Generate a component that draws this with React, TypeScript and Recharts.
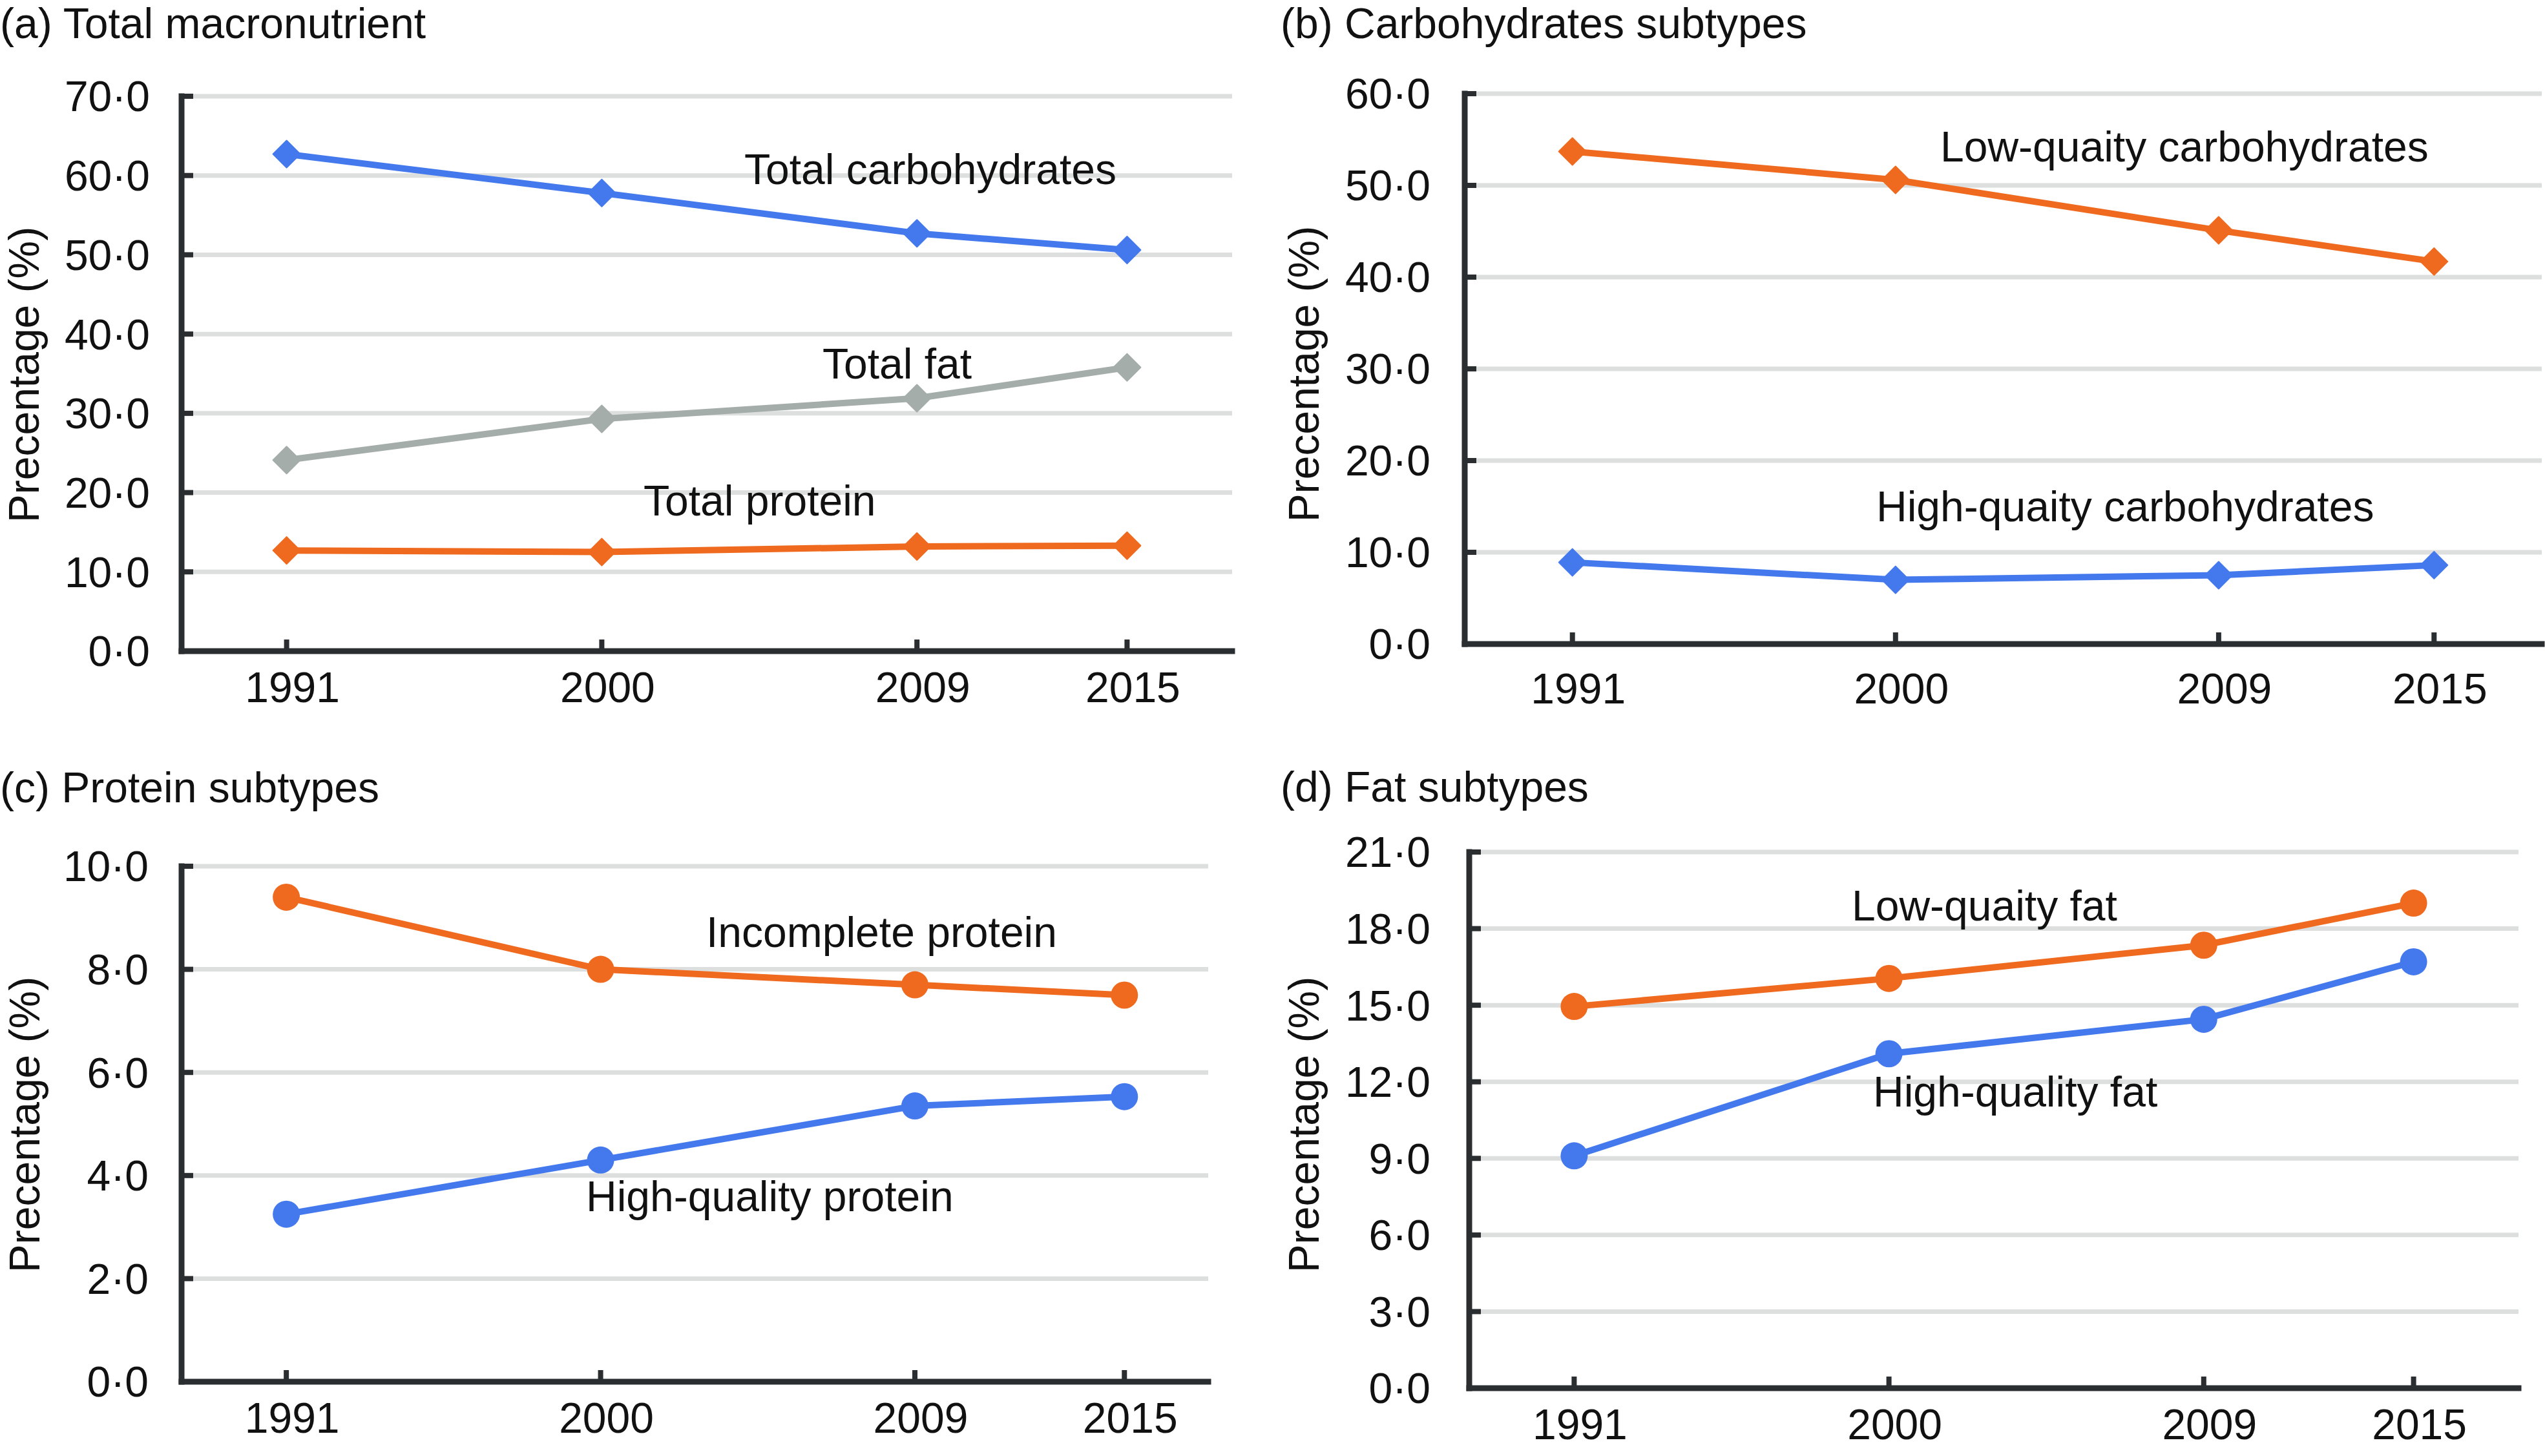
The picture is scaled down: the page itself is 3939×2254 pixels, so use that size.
import React from "react";
import { CartesianGrid, Line, LineChart, XAxis, YAxis } from "recharts";

const YEARS = [1991, 2000, 2009, 2015];

// (a) Total macronutrient
const totalCarbs = [62.7, 57.8, 52.7, 50.6];
const totalFat = [24.1, 29.3, 31.9, 35.8];
const totalProtein = [12.7, 12.5, 13.2, 13.3];

// (b) Carbohydrates subtypes
const lowCarbs = [53.7, 50.6, 45.1, 41.7];
const highCarbs = [8.9, 7.0, 7.5, 8.6];

// (c) Protein subtypes
const incompleteProtein = [9.4, 8.0, 7.7, 7.5];
const highProtein = [3.25, 4.3, 5.35, 5.53];

// (d) Fat subtypes
const lowFat = [14.95, 16.05, 17.35, 19.0];
const highFat = [9.1, 13.1, 14.45, 16.7];

const ticksA = [0, 10, 20, 30, 40, 50, 60, 70];
const ticksB = [0, 10, 20, 30, 40, 50, 60];
const ticksC = [0, 2, 4, 6, 8, 10];
const ticksD = [0, 3, 6, 9, 12, 15, 18, 21];

const BLUE = "#4479ee";
const ORANGE = "#ef6a1f";
const GREY = "#a5adab";
const AXIS = "#2a2e30";
const GRID = "#dcdfde";
const FONT = "'Liberation Sans', Arial, Helvetica, sans-serif";
const FS = 66;

const toRows = (cols: Record<string, number[]>) =>
  YEARS.map((year, i) => {
    const row: Record<string, number> = { year };
    Object.keys(cols).forEach((k) => (row[k] = cols[k][i]));
    return row;
  });

const dataA = toRows({ carbs: totalCarbs, fat: totalFat, protein: totalProtein });
const dataB = toRows({ low: lowCarbs, high: highCarbs });
const dataC = toRows({ incomplete: incompleteProtein, high: highProtein });
const dataD = toRows({ low: lowFat, high: highFat });

const fmt = (v: number) => v.toFixed(1).replace(".", "\u00b7");

function diamond(color: string) {
  return (props: any) => {
    const { cx, cy, index } = props;
    if (cx == null || cy == null) return <g key={`d-${index}`} />;
    return (
      <path
        key={`d-${index}`}
        d={`M${cx},${cy - 21} L${cx + 21},${cy} L${cx},${cy + 21} L${cx - 21},${cy} Z`}
        fill={color}
        stroke={color}
        strokeWidth={2}
        strokeLinejoin="round"
      />
    );
  };
}

interface Series {
  key: string;
  color: string;
  shape: "diamond" | "circle";
}

interface PanelProps {
  data: Record<string, number>[];
  box: { left: number; top: number; width: number; height: number };
  plot: { x0: number; x1: number; y0: number; y1: number };
  xDomain: [number, number];
  yDomain: [number, number];
  yTicks: number[];
  labelGap: number;
  xLabelGap: number;
  series: Series[];
}

function Panel({ data, box, plot, xDomain, yDomain, yTicks, labelGap, xLabelGap, series }: PanelProps) {
  const xAxisHeight = 100;
  const margin = {
    top: plot.y0 - box.top,
    right: box.left + box.width - plot.x1,
    bottom: box.top + box.height - plot.y1 - xAxisHeight,
    left: 0,
  };
  const tickFont = { fontSize: FS, fill: "#111", fontFamily: FONT };
  return (
    <div style={{ position: "absolute", left: box.left, top: box.top }}>
      <LineChart width={box.width} height={box.height} data={data} margin={margin}>
        <CartesianGrid horizontal vertical={false} stroke={GRID} strokeWidth={7} />
        <XAxis
          dataKey="year"
          type="number"
          domain={xDomain}
          ticks={YEARS}
          interval={0}
          height={xAxisHeight}
          tickSize={-18}
          tickMargin={18 + xLabelGap}
          tick={{ ...tickFont, dx: 9 }}
          axisLine={{ stroke: AXIS, strokeWidth: 9, strokeLinecap: "square" }}
          tickLine={{ stroke: AXIS, strokeWidth: 8 }}
          allowDataOverflow
        />
        <YAxis
          type="number"
          domain={yDomain}
          ticks={yTicks}
          interval={0}
          width={plot.x0 - box.left}
          tickSize={-18}
          tickMargin={18 + labelGap}
          tickFormatter={fmt}
          tick={tickFont}
          axisLine={{ stroke: AXIS, strokeWidth: 9, strokeLinecap: "square" }}
          tickLine={{ stroke: AXIS, strokeWidth: 8 }}
          allowDataOverflow
        />
        {series.map((s) => (
          <Line
            key={s.key}
            type="linear"
            dataKey={s.key}
            stroke={s.color}
            strokeWidth={10}
            dot={s.shape === "diamond" ? diamond(s.color) : { r: 21, fill: s.color, stroke: s.color, strokeWidth: 0 }}
            activeDot={false}
            isAnimationActive={false}
          />
        ))}
      </LineChart>
    </div>
  );
}

const titles = [
  { text: "(a) Total macronutrient", x: 0, y: 59 },
  { text: "(b) Carbohydrates subtypes", x: 1982, y: 59 },
  { text: "(c) Protein subtypes", x: 0, y: 1242 },
  { text: "(d) Fat subtypes", x: 1982, y: 1241 },
];

const yLabels = [
  { x: 60, y: 580 },
  { x: 2041, y: 579 },
  { x: 61, y: 1741 },
  { x: 2041, y: 1741 },
];

const notes = [
  { text: "Total carbohydrates", x: 1152, y: 285 },
  { text: "Total fat", x: 1273, y: 586 },
  { text: "Total protein", x: 996, y: 798 },
  { text: "Low-quaity carbohydrates", x: 3003, y: 250 },
  { text: "High-quaity carbohydrates", x: 2904, y: 807 },
  { text: "Incomplete protein", x: 1093, y: 1466 },
  { text: "High-quality protein", x: 907, y: 1875 },
  { text: "Low-quaity fat", x: 2866, y: 1425 },
  { text: "High-quality fat", x: 2899, y: 1713 },
];

export default function App() {
  return (
    <div style={{ position: "relative", width: 3939, height: 2254, background: "#fff", overflow: "hidden" }}>
      <style>{"body{margin:0}"}</style>
      <Panel
        data={dataA}
        box={{ left: 0, top: 100, width: 1930, height: 1100 }}
        plot={{ x0: 281, x1: 1907, y0: 149, y1: 1008 }}
        xDomain={[1988, 2018]}
        yDomain={[0, 70]}
        yTicks={ticksA}
        labelGap={49}
        xLabelGap={32}
        series={[
          { key: "carbs", color: BLUE, shape: "diamond" },
          { key: "fat", color: GREY, shape: "diamond" },
          { key: "protein", color: ORANGE, shape: "diamond" },
        ]}
      />
      <Panel
        data={dataB}
        box={{ left: 1960, top: 100, width: 1979, height: 1100 }}
        plot={{ x0: 2267, x1: 3934, y0: 145, y1: 997 }}
        xDomain={[1988, 2018]}
        yDomain={[0, 60]}
        yTicks={ticksB}
        labelGap={53}
        xLabelGap={45}
        series={[
          { key: "low", color: ORANGE, shape: "diamond" },
          { key: "high", color: BLUE, shape: "diamond" },
        ]}
      />
      <Panel
        data={dataC}
        box={{ left: 0, top: 1280, width: 1930, height: 974 }}
        plot={{ x0: 281, x1: 1870, y0: 1341, y1: 2139 }}
        xDomain={[1988, 2017.4]}
        yDomain={[0, 10]}
        yTicks={ticksC}
        labelGap={51}
        xLabelGap={32}
        series={[
          { key: "incomplete", color: ORANGE, shape: "circle" },
          { key: "high", color: BLUE, shape: "circle" },
        ]}
      />
      <Panel
        data={dataD}
        box={{ left: 1960, top: 1260, width: 1979, height: 994 }}
        plot={{ x0: 2274, x1: 3898, y0: 1319, y1: 2149 }}
        xDomain={[1988, 2018]}
        yDomain={[0, 21]}
        yTicks={ticksD}
        labelGap={60}
        xLabelGap={32}
        series={[
          { key: "low", color: ORANGE, shape: "circle" },
          { key: "high", color: BLUE, shape: "circle" },
        ]}
      />
      <svg
        width={3939}
        height={2254}
        style={{ position: "absolute", left: 0, top: 0, pointerEvents: "none" }}
        fontFamily={FONT}
        fontSize={FS}
        fill="#111"
      >
        {titles.map((t) => (
          <text key={t.text} x={t.x} y={t.y}>
            {t.text}
          </text>
        ))}
        {yLabels.map((l, i) => (
          <text key={i} x={l.x} y={l.y} textAnchor="middle" transform={`rotate(-90 ${l.x} ${l.y})`}>
            Precentage (%)
          </text>
        ))}
        {notes.map((n) => (
          <text key={n.text} x={n.x} y={n.y}>
            {n.text}
          </text>
        ))}
      </svg>
    </div>
  );
}
